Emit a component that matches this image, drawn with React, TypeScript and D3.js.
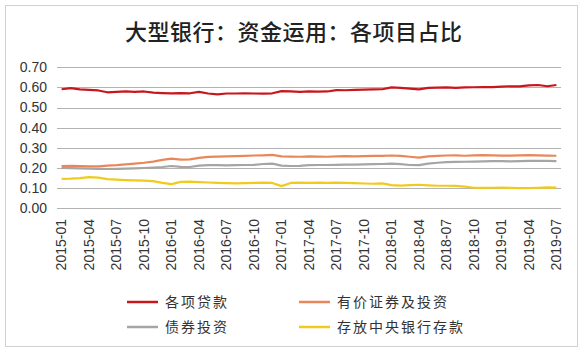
import React from "react";
import * as d3 from "d3";

const months: string[] = (() => {
  const out: string[] = [];
  for (let y = 2015; y <= 2019; y++) {
    for (let m = 1; m <= 12; m++) {
      if (y === 2019 && m > 7) break;
      out.push(`${y}-${String(m).padStart(2, "0")}`);
    }
  }
  return out;
})();

const tickLabels = [
  "2015-01", "2015-04", "2015-07", "2015-10", "2016-01", "2016-04", "2016-07", "2016-10",
  "2017-01", "2017-04", "2017-07", "2017-10", "2018-01", "2018-04", "2018-07", "2018-10",
  "2019-01", "2019-04", "2019-07",
];

const yTicks = [0, 0.1, 0.2, 0.3, 0.4, 0.5, 0.6, 0.7];

const loans = [
  0.591, 0.597, 0.590, 0.588, 0.585, 0.576, 0.578, 0.580, 0.578, 0.580, 0.574, 0.572,
  0.571, 0.572, 0.571, 0.578, 0.570, 0.566, 0.570, 0.570, 0.571, 0.570, 0.569, 0.571,
  0.582, 0.580, 0.578, 0.580, 0.579, 0.580, 0.587, 0.586, 0.588, 0.589, 0.590, 0.591,
  0.600, 0.598, 0.594, 0.590, 0.598, 0.599, 0.600, 0.598, 0.600, 0.601, 0.602, 0.602,
  0.604, 0.606, 0.605, 0.610, 0.612, 0.606, 0.612,
];

const securities = [
  0.210, 0.211, 0.209, 0.208, 0.208, 0.212, 0.214, 0.218, 0.222, 0.226, 0.232, 0.240,
  0.247, 0.242, 0.243, 0.250, 0.255, 0.257, 0.258, 0.259, 0.260, 0.262, 0.263, 0.265,
  0.258, 0.257, 0.256, 0.258, 0.257, 0.256, 0.258, 0.259, 0.258, 0.259, 0.260, 0.260,
  0.262, 0.260, 0.256, 0.252, 0.258, 0.260, 0.262, 0.263, 0.261, 0.263, 0.264, 0.263,
  0.262, 0.262, 0.263, 0.264, 0.263, 0.262, 0.261,
];

const bonds = [
  0.200, 0.199, 0.198, 0.197, 0.196, 0.195, 0.196, 0.197, 0.198, 0.200, 0.202, 0.205,
  0.210, 0.206, 0.205, 0.212, 0.214, 0.214, 0.213, 0.214, 0.215, 0.216, 0.220, 0.222,
  0.212, 0.210, 0.211, 0.214, 0.215, 0.215, 0.216, 0.217, 0.217, 0.218, 0.219, 0.220,
  0.222, 0.219, 0.215, 0.214, 0.222, 0.226, 0.229, 0.230, 0.231, 0.232, 0.233, 0.234,
  0.234, 0.233, 0.234, 0.235, 0.236, 0.235, 0.234,
];

const reserves = [
  0.146, 0.147, 0.150, 0.155, 0.152, 0.145, 0.142, 0.140, 0.139, 0.137, 0.135, 0.126,
  0.120, 0.131, 0.132, 0.130, 0.128, 0.126, 0.125, 0.124, 0.125, 0.126, 0.127, 0.126,
  0.110, 0.126, 0.127, 0.126, 0.127, 0.126, 0.127, 0.126, 0.125, 0.123, 0.122, 0.124,
  0.115, 0.113, 0.115, 0.117, 0.114, 0.112, 0.112, 0.111, 0.108, 0.102, 0.101, 0.102,
  0.103, 0.101, 0.100, 0.100, 0.102, 0.104, 0.103,
];

const seriesNames = ["各项贷款", "有价证券及投资", "债券投资", "存放中央银行存款"];
const seriesColors = ["#C8161D", "#E8875A", "#A5A5A5", "#F0CB1E"];
const seriesData = [loans, securities, bonds, reserves];

const title = "大型银行：资金运用：各项目占比";

export default function App() {
  const W = 584, H = 355;
  const x = d3.scalePoint<string>().domain(months).range([57, 561]).padding(0.5);
  const y = d3.scaleLinear().domain([0, 0.7]).range([208.3, 67.3]);
  const fmt = d3.format(".2f");
  const line = d3
    .line<number>()
    .x((_, i) => x(months[i]) as number)
    .y((d) => y(d));

  const legendPos = [
    { lx: 127, ly: 302 },
    { lx: 299, ly: 302 },
    { lx: 127, ly: 327 },
    { lx: 299, ly: 327 },
  ];

  return (
    <svg
      width={W}
      height={H}
      style={{ position: "absolute", left: 0, top: 0, background: "#fff" }}
      fontFamily="'Liberation Sans', Arial, sans-serif"
    >
      <rect x={0} y={0} width={W} height={H} fill="#fff" />
      <rect x={5.5} y={5.5} width={572} height={341} fill="#fff" stroke="#D0D0D0" strokeWidth={1} />
      <text
        x={125}
        y={39.5}
        textAnchor="start"
        fontFamily="'Noto Sans CJK SC', sans-serif"
        fontSize={22}
        fontWeight={500}
        textLength={337}
        lengthAdjust="spacing"
        fill="#222"
      >
        {title}
      </text>
      {yTicks.map((t) => (
        <g key={t}>
          <line x1={57} x2={561} y1={Math.round(y(t)) + 0.5} y2={Math.round(y(t)) + 0.5} stroke="#B3B3B3" strokeWidth={1} />
          <text x={47} y={y(t)} dy="0.35em" textAnchor="end" fontSize={14} fill="#333">
            {fmt(t)}
          </text>
        </g>
      ))}
      {tickLabels.map((lab) => {
        const px = x(lab) as number;
        return (
          <text
            key={lab}
            transform={`translate(${px},${219}) rotate(-90)`}
            dy="0.35em"
            textAnchor="end"
            fontSize={14}
            fill="#333"
          >
            {lab}
          </text>
        );
      })}
      {seriesData.map((d, i) => (
        <path key={i} d={line(d) || ""} fill="none" stroke={seriesColors[i]} strokeWidth={2.2} strokeLinejoin="round" />
      ))}
      {seriesNames.map((n, i) => (
        <g key={n}>
          <line
            x1={legendPos[i].lx}
            x2={legendPos[i].lx + 31}
            y1={legendPos[i].ly}
            y2={legendPos[i].ly}
            stroke={seriesColors[i]}
            strokeWidth={2.5}
          />
          <text
            x={legendPos[i].lx + 38}
            y={legendPos[i].ly}
            dy="0.35em"
            fontFamily="'Noto Sans CJK SC', sans-serif"
            fontSize={14}
            letterSpacing={2}
            fill="#333"
          >
            {n}
          </text>
        </g>
      ))}
    </svg>
  );
}
